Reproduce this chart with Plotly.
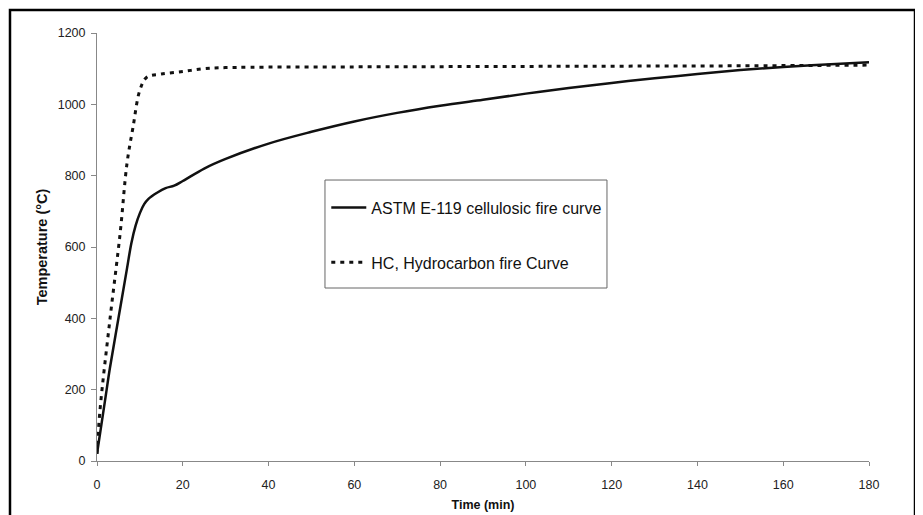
import plotly.graph_objects as go

# Data
astm_time = [0, 1, 2, 3, 5, 7, 8, 9, 10, 11, 12, 14, 16, 18, 20, 25, 30, 40, 50, 60, 70, 80, 90, 100, 110, 120, 130, 140, 150, 160, 170, 180]
astm_temp = [20, 100, 180, 260, 400, 540, 610, 660, 695, 720, 735, 752, 765, 772, 785, 820, 847, 890, 923, 952, 976, 996, 1013, 1030, 1046, 1060, 1073, 1085, 1096, 1105, 1112, 1118]

hc_time = [0, 0.7, 3, 5.4, 7, 8.4, 10, 11.6, 15, 20, 25, 30, 60, 90, 120, 150, 180]
hc_temp = [20, 143, 395, 639, 835, 936, 1040, 1076, 1085, 1092, 1100, 1103, 1105, 1106, 1107, 1108, 1110]

x_ticks = [0, 20, 40, 60, 80, 100, 120, 140, 160, 180]
y_ticks = [0, 200, 400, 600, 800, 1000, 1200]

FONT = "Liberation Sans, Arial, sans-serif"

fig = go.Figure()
fig.add_trace(go.Scatter(
    x=astm_time, y=astm_temp, mode="lines",
    name="ASTM E-119 cellulosic fire curve",
    line=dict(color="#111111", width=2.5, shape="spline"),
    legendgroup="a",
))
fig.add_trace(go.Scatter(
    x=hc_time, y=hc_temp, mode="lines",
    name="HC, Hydrocarbon fire Curve",
    line=dict(color="#111111", width=3, dash="4px,5px", shape="spline"),
    legendgroup="b",
))

fig.update_layout(
    width=915, height=507,
    margin=dict(l=89, r=54, t=25, b=54, autoexpand=False),
    paper_bgcolor="white", plot_bgcolor="white",
    font=dict(family=FONT, size=12, color="#222222"),
    showlegend=True,
    legend=dict(
        x=0.297, y=0.659, xanchor="left", yanchor="top",
        bgcolor="rgba(0,0,0,0)", borderwidth=0,
        font=dict(family=FONT, size=16, color="#111111"),
        title=dict(text=" ", font=dict(size=9)),
        tracegroupgap=31, traceorder="grouped",
        itemwidth=35,
    ),
    xaxis=dict(
        range=[0, 180], tickvals=x_ticks, ticktext=[str(v) for v in x_ticks],
        showgrid=False, zeroline=False, automargin=False,
        showline=True, linecolor="#888888", linewidth=1,
        ticks="outside", ticklen=4, tickcolor="#888888",
        ticklabelstandoff=8,
        tickfont=dict(size=12.5, color="#222222"),
        title=dict(text="<b>Time (min)</b>", font=dict(size=12.5, color="#111111"), standoff=9),
    ),
    yaxis=dict(
        range=[0, 1200], tickvals=y_ticks, ticktext=[str(v) for v in y_ticks],
        showgrid=False, zeroline=False, automargin=False,
        showline=True, linecolor="#888888", linewidth=1,
        ticks="outside", ticklen=5, tickcolor="#888888",
        ticklabelstandoff=3,
        tickfont=dict(size=12.5, color="#222222"),
        title=dict(text="<b>Temperature (°C)</b>", font=dict(size=14.5, color="#111111"), standoff=6),
    ),
    shapes=[
        dict(
            type="rect", xref="paper", yref="paper",
            x0=-0.1127, x1=1.0596, y0=-0.15, y1=1.0537,
            line=dict(color="#000000", width=2.5), fillcolor="rgba(0,0,0,0)", layer="above",
        ),
        dict(
            type="rect", xref="paper", yref="paper",
            x0=0.2953, x1=0.6606, y0=0.4042, y1=0.6565,
            line=dict(color="#666666", width=1), fillcolor="white", layer="below",
        ),
    ],
)

fig.write_html("out.html")
